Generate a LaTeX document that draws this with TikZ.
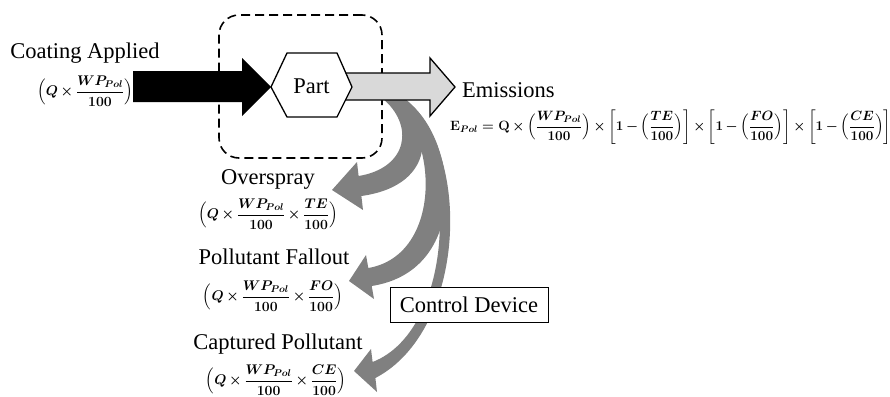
\RequirePackage{fix-cm}
\documentclass[tikz,border=0pt]{standalone}
\usepackage{amsmath}
\usepackage{fontspec}
\setmainfont{Liberation Serif}
\definecolor{arrgray}{RGB}{128,128,128}
\definecolor{emigray}{RGB}{217,217,217}
\newcommand{\hnd}{\mathbf{100}}
\newcommand{\fr}[1]{\dfrac{#1}{\hnd}}
\AtBeginDocument{\medmuskip=3mu plus 1mu minus 1mu\relax}
\begin{document}
\begin{tikzpicture}[x=1pt,y=-1pt,
  lbl/.style={font=\fontsize{22.5}{26}\selectfont, inner sep=0},
  frm/.style={font=\fontsize{14}{17}\selectfont\boldmath, inner sep=0},
  garrow/.style={fill=arrgray},
  blk/.style={line width=1.3pt, line join=miter}]
\useasboundingbox (0,0) rectangle (890,396);

% dashed system boundary
\node[draw, dash pattern=on 9pt off 5pt, line width=1.6pt, rounded corners=20pt,
  minimum width=163pt, minimum height=143pt, inner sep=0] (sys) at (300.5,86.5) {};

% curved gray arrows
\fill[garrow] (404,98) .. controls (472,150) and (467,330) .. (375.4,378)
  -- (377,392) -- (354,371) -- (371,349) -- (372.6,362)
  .. controls (455,330) and (462,150) .. (392,98) -- cycle;
\fill[garrow] (402,98) .. controls (457,130) and (474,270) .. (371.7,286)
  -- (374,299) -- (349,281) -- (366,255) -- (368.3,268)
  .. controls (444,255) and (439,130) .. (387,98) -- cycle;
\fill[garrow] (398,98) .. controls (432,120) and (440,185) .. (361.4,196)
  -- (363,210) -- (332,190) -- (357,162) -- (358.6,176)
  .. controls (408,168) and (415,125) .. (382,98) -- cycle;

% emissions arrow
\draw[blk, fill=emigray] (340,73) -- (430,73) -- (430,58) -- (455,87) -- (430,116) -- (430,100) -- (340,100) -- cycle;
% coating arrow
\fill[black] (133,71) -- (242,71) -- (242,58) -- (271,87) -- (242,116) -- (242,102) -- (133,102) -- cycle;

% part hexagon
\draw[blk, fill=white] (271,87) -- (287,53) -- (337,53) -- (352,87) -- (337,117) -- (287,117) -- cycle;
\node[lbl] (part) at (311.5,86) {Part};

% labels
\node[lbl] (coat) at (85,53) {Coating Applied};
\node[frm] (coatf) at (85,91) {$\Bigl(Q\times\fr{WP_{Pol}}\Bigr)$};
\node[lbl, anchor=west] (emis) at (462,90) {Emissions};
\node[frm, anchor=west, font=\fontsize{13.5}{16}\selectfont\boldmath] (emisf) at (450,127) {$\mathbf{E}_{Pol}=\mathbf{Q}\times\Bigl(\fr{WP_{Pol}}\Bigr)\times\biggl[\mathbf{1}-\Bigl(\fr{TE}\Bigr)\biggr]\times\biggl[\mathbf{1}-\Bigl(\fr{FO}\Bigr)\biggr]\times\biggl[\mathbf{1}-\Bigl(\fr{CE}\Bigr)\biggr]$};

\node[lbl] (over) at (268,179) {Overspray};
\node[frm] (overf) at (268,214) {$\Bigl(Q\times\fr{WP_{Pol}}\times\fr{TE}\Bigr)$};
\node[lbl] (fall) at (274,257) {Pollutant Fallout};
\node[frm] (fallf) at (273,296) {$\Bigl(Q\times\fr{WP_{Pol}}\times\fr{FO}\Bigr)$};
\node[lbl] (capt) at (278,344) {Captured Pollutant};
\node[frm] (captf) at (276,380) {$\Bigl(Q\times\fr{WP_{Pol}}\times\fr{CE}\Bigr)$};

\node[lbl, draw, fill=white, line width=0.8pt, minimum width=158pt, minimum height=35pt] (ctrl) at (469,304.5) {Control Device};
\end{tikzpicture}
\end{document}
